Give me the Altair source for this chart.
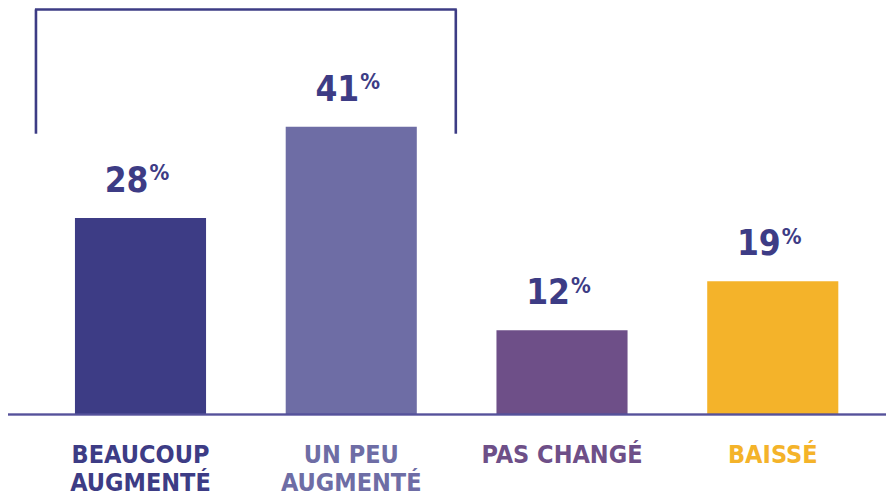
import altair as alt
import pandas as pd

categories = ["BEAUCOUP AUGMENTÉ", "UN PEU AUGMENTÉ", "PAS CHANGÉ", "BAISSÉ"]
label_line1 = ["BEAUCOUP", "UN PEU", "PAS CHANGÉ", "BAISSÉ"]
label_line2 = ["AUGMENTÉ", "AUGMENTÉ", "", ""]
values = [28, 41, 12, 19]
colors = ["#3d3c85", "#6e6da5", "#6e4f88", "#f4b32a"]

NAVY = "#3d3c85"
FONT = "Liberation Sans Narrow, DejaVu Sans Condensed, Roboto Condensed, Roboto, sans-serif"

df = pd.DataFrame({
    "cat": categories,
    "l1": label_line1,
    "l2": label_line2,
    "value": values,
    "zero": [0] * len(values),
    "color": colors,
    "num": [str(v) for v in values],
    "pct": ["%"] * len(values),
})
bracket_left = pd.DataFrame({"cat": [categories[0]], "top": [57.7], "bottom": [40.0]})
bracket_right = pd.DataFrame({"cat": [categories[1]], "top": [57.7], "bottom": [40.0]})

W, H = 878, 488
xscale = alt.Scale(domain=categories, paddingInner=0.378, paddingOuter=0.272, align=0.584)
yscale = alt.Scale(domain=[-11.61, 57.91], nice=False, zero=False)
X = alt.X("cat:N", scale=xscale, axis=None)
Y = alt.Y("value:Q", scale=yscale, axis=None)
Y0 = alt.Y("zero:Q", scale=yscale, axis=None)
C = alt.Color("color:N", scale=None)

base = alt.Chart(df)

bars = base.mark_bar().encode(x=X, y=Y, y2="zero:Q", color=C)

nums = base.mark_text(font=FONT, fontSize=35, fontWeight="bold", align="right",
                      baseline="alphabetic", dx=8, dy=-26, color=NAVY).encode(x=X, y=Y, text="num:N")
pcts = base.mark_text(font=FONT, fontSize=22, fontWeight="bold", align="left",
                      baseline="alphabetic", dx=9, dy=-37.5, color=NAVY).encode(x=X, y=Y, text="pct:N")

cats1 = base.mark_text(font=FONT, fontSize=25, fontWeight="bold", align="center",
                       baseline="alphabetic", dy=48).encode(x=X, y=Y0, text="l1:N", color=C)
cats2 = base.mark_text(font=FONT, fontSize=25, fontWeight="bold", align="center",
                       baseline="alphabetic", dy=76).encode(x=X, y=Y0, text="l2:N", color=C)

baseline = base.mark_rule(color="#55529a", strokeWidth=1.6).encode(
    y=Y0, x=alt.value(0), x2=alt.value(W))

bleft = alt.Chart(bracket_left).mark_rule(color=NAVY, strokeWidth=2.6, xOffset=-39).encode(
    x=alt.X("cat:N", scale=xscale, bandPosition=0, axis=None),
    y=alt.Y("top:Q", scale=yscale, axis=None), y2="bottom:Q")
bright = alt.Chart(bracket_right).mark_rule(color=NAVY, strokeWidth=2.6, xOffset=39).encode(
    x=alt.X("cat:N", scale=xscale, bandPosition=1, axis=None),
    y=alt.Y("top:Q", scale=yscale, axis=None), y2="bottom:Q")
btop = alt.Chart(bracket_left).mark_rule(color=NAVY, strokeWidth=2.6).encode(
    x=alt.value({"expr": "scale('x', '%s') - 40" % categories[0]}),
    x2=alt.value({"expr": "scale('x', '%s') + bandwidth('x') + 40" % categories[1]}),
    y=alt.Y("top:Q", scale=yscale, axis=None))

chart = alt.layer(bars, baseline, nums, pcts, cats1, cats2, bleft, bright, btop).properties(
    width=W, height=H, padding=0, autosize=alt.AutoSizeParams(type="none")
).configure_view(stroke=None)

chart.save("out.html", embed_options={"renderer": "svg", "actions": False})
